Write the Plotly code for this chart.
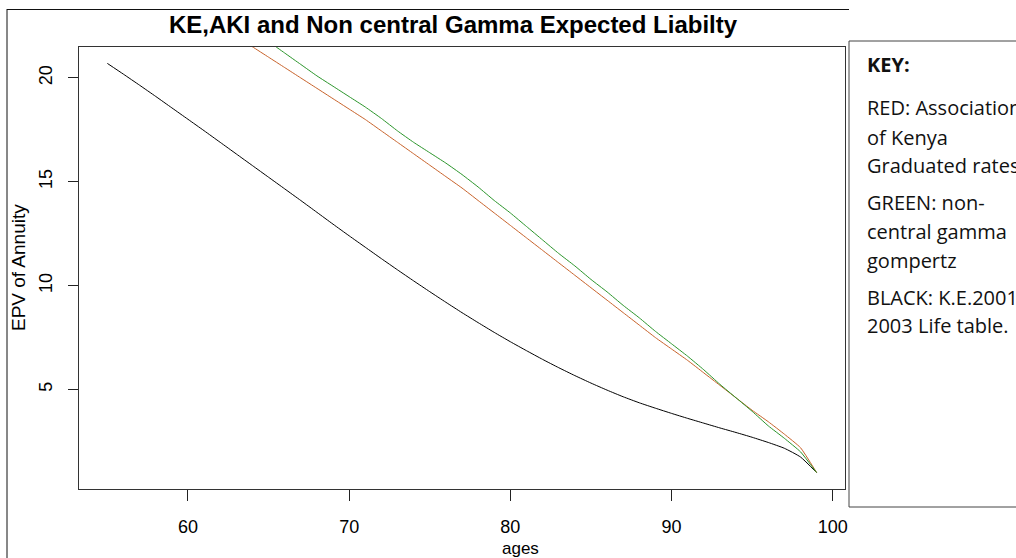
import plotly.graph_objects as go

# ---- data ----
ages_black = list(range(55, 100))
epv_black = [20.7, 20.18, 19.65, 19.11, 18.56, 18.01, 17.46, 16.9, 16.34, 15.78,
             15.22, 14.66, 14.1, 13.53, 12.96, 12.4, 11.85, 11.3, 10.76, 10.23,
             9.71, 9.2, 8.7, 8.22, 7.75, 7.3, 6.87, 6.45, 6.05, 5.67,
             5.31, 4.97, 4.65, 4.36, 4.1, 3.85, 3.61, 3.38, 3.15, 2.93,
             2.7, 2.45, 2.17, 1.75, 1.0]

ages_red = list(range(63, 100))
epv_red = [22.0, 21.5, 21.0, 20.5, 20.0, 19.5, 19.0, 18.5, 18.0, 17.45,
           16.9, 16.35, 15.8, 15.25, 14.7, 14.1, 13.5, 12.9, 12.3, 11.7,
           11.1, 10.5, 9.9, 9.3, 8.7, 8.1, 7.5, 6.95, 6.4, 5.8,
           5.2, 4.6, 4.0, 3.45, 2.85, 2.2, 1.0]

ages_green = list(range(64, 100))
epv_green = [22.25, 21.75, 21.2, 20.65, 20.1, 19.6, 19.1, 18.6, 18.05, 17.45,
             16.9, 16.4, 15.9, 15.35, 14.75, 14.1, 13.5, 12.85, 12.2, 11.55,
             10.95, 10.3, 9.7, 9.05, 8.45, 7.8, 7.2, 6.6, 5.95, 5.25,
             4.6, 3.95, 3.25, 2.65, 2.0, 1.0]

x_ticks = [60, 70, 80, 90, 100]
y_ticks = [5, 10, 15, 20]

title_text = "KE,AKI and Non central Gamma Expected Liabilty"
key_lines = [
    ("<b>KEY:</b>", 65),
    ("RED: Association", 108),
    ("of Kenya", 137),
    ("Graduated rates", 165),
    ("GREEN: non-", 203),
    ("central gamma", 232),
    ("gompertz", 260),
    ("BLACK: K.E.2001", 297),
    ("2003 Life table.", 325),
]

# ---- layout geometry (pixels) ----
W, H = 1016, 558
L, R, T, B = 79, 845, 47, 489


def px(xp):
    return (xp - L) / (R - L)


def py(yp):
    return (B - yp) / (B - T)


fig = go.Figure()
fig.add_trace(go.Scatter(x=ages_black, y=epv_black, mode="lines",
                         line=dict(color="#000000", width=1, shape="spline", smoothing=0.5),
                         showlegend=False))
fig.add_trace(go.Scatter(x=ages_red, y=epv_red, mode="lines",
                         line=dict(color="#c8622a", width=1, shape="spline", smoothing=0.4),
                         showlegend=False))
fig.add_trace(go.Scatter(x=ages_green, y=epv_green, mode="lines",
                         line=dict(color="#2a952a", width=1, shape="spline", smoothing=0.4),
                         showlegend=False))

axis_font = dict(family="Liberation Sans, Arial, sans-serif", size=18, color="#000")

fig.update_layout(
    width=W, height=H,
    margin=dict(l=L, r=W - R, t=T, b=H - B, pad=0, autoexpand=False),
    paper_bgcolor="white", plot_bgcolor="white",
    title=dict(text="<b>" + title_text + "</b>", x=453 / W, xanchor="center",
               y=1 - 25 / H, yanchor="middle",
               font=dict(family="Liberation Sans, Arial, sans-serif", size=24, color="#000")),
    xaxis=dict(range=[53.24, 100.76], tickvals=x_ticks, ticks="outside", ticklen=11,
               tickcolor="#222", tickwidth=1, showgrid=False, zeroline=False,
               showline=True, mirror=True, linecolor="#333", linewidth=1,
               tickfont=axis_font, ticklabelstandoff=10, automargin=False),
    yaxis=dict(range=[0.21, 21.49], tickvals=y_ticks, ticks="outside", ticklen=10,
               tickcolor="#222", tickwidth=1, showgrid=False, zeroline=False,
               showline=True, mirror=True, linecolor="#333", linewidth=1,
               tickangle=-90, tickfont=axis_font, ticklabelstandoff=9, automargin=False),
)

shapes = []
# outer figure frame (left and top edges)
shapes.append(dict(type="line", xref="paper", yref="paper", x0=px(7), x1=px(7),
                   y0=py(9), y1=py(H + 5), line=dict(color="#111", width=1)))
shapes.append(dict(type="line", xref="paper", yref="paper", x0=px(7), x1=px(849),
                   y0=py(9.5), y1=py(9.5), line=dict(color="#111", width=1)))
# key box
shapes.append(dict(type="rect", xref="paper", yref="paper", x0=px(849), x1=px(W + 10),
                   y0=py(507), y1=py(41), fillcolor="white",
                   line=dict(color="#444", width=1), layer="above"))
fig.update_layout(shapes=shapes)

ann = []
ann.append(dict(text="ages", xref="paper", yref="paper", x=(520 - L) / (R - L), y=py(548),
                xanchor="center", yanchor="middle", showarrow=False,
                font=dict(family="Liberation Sans, Arial, sans-serif", size=17, color="#000")))
ann.append(dict(text="EPV of Annuity", xref="paper", yref="paper", x=px(18), y=0.5,
                xanchor="center", yanchor="middle", textangle=-90, showarrow=False,
                font=dict(family="Liberation Sans, Arial, sans-serif", size=19, color="#000")))
for txt, yc in key_lines:
    ann.append(dict(text=txt, xref="paper", yref="paper", x=px(865), y=py(yc),
                    xanchor="left", yanchor="middle", showarrow=False,
                    font=dict(family="Open Sans, sans-serif", size=20, color="#111")))
fig.update_layout(annotations=ann)

fig.write_html("out.html", config={"displayModeBar": False},
               post_script="document.body.style.margin='0';document.body.style.overflow='hidden';")
